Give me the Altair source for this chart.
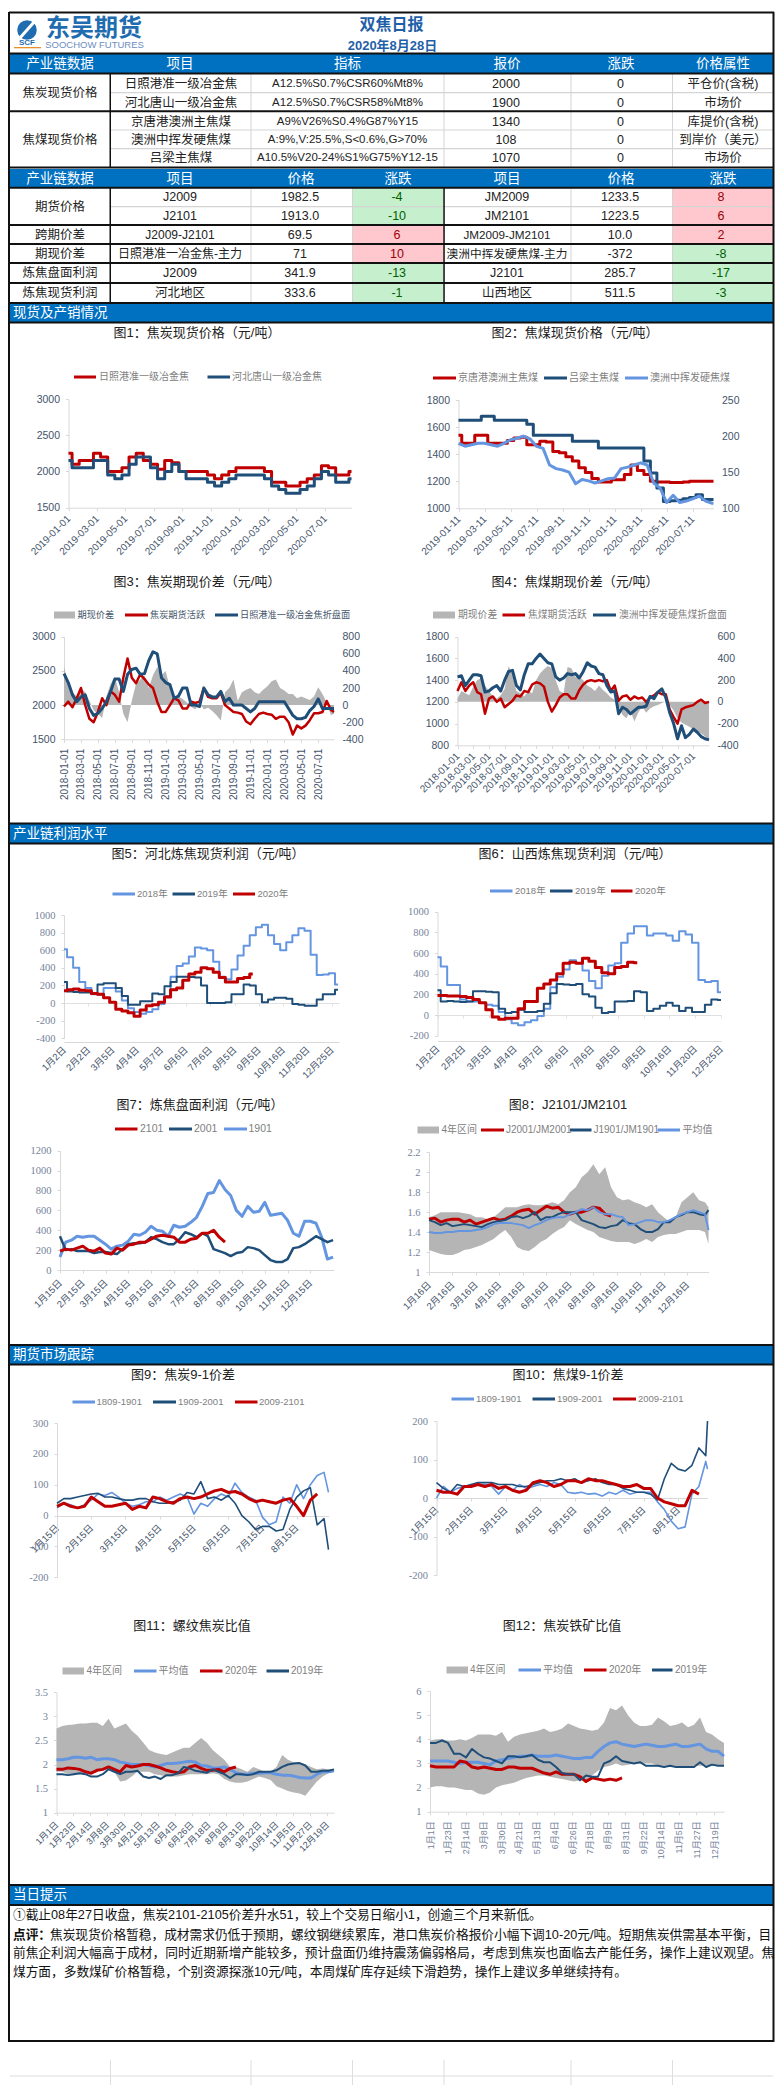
import json
import altair as alt
import numpy as np
import pandas as pd

W, H, M = 768, 2077, 8
RED, DARK, LIGHT, GRAY = "#C00000", "#1F4E79", "#6495E0", "#B5B5B5"
BLUE = "#0070C0"
SANS = "Liberation Sans, Noto Sans CJK SC"
AX_DARK, AX_PALE = "#44546A", "#75849A"

# ---------- table contents ----------
TITLE = "双焦日报"
DATE = "2020年8月28日"
HEAD1 = ["产业链数据", "项目", "指标", "报价", "涨跌", "价格属性"]
HEAD2 = ["产业链数据", "项目", "价格", "涨跌", "项目", "价格", "涨跌"]
ROWS1 = [
    ["日照港准一级冶金焦", "A12.5%S0.7%CSR60%Mt8%", "2000", "0", "平仓价(含税)"],
    ["河北唐山一级冶金焦", "A12.5%S0.7%CSR58%Mt8%", "1900", "0", "市场价"],
    ["京唐港澳洲主焦煤", "A9%V26%S0.4%G87%Y15", "1340", "0", "库提价(含税)"],
    ["澳洲中挥发硬焦煤", "A:9%,V:25.5%,S<0.6%,G>70%", "108", "0", "到岸价（美元）"],
    ["吕梁主焦煤", "A10.5%V20-24%S1%G75%Y12-15", "1070", "0", "市场价"],
]
ROWS2 = [
    ["J2009", "1982.5", "-4", "JM2009", "1233.5", "8"],
    ["J2101", "1913.0", "-10", "JM2101", "1223.5", "6"],
    ["J2009-J2101", "69.5", "6", "JM2009-JM2101", "10.0", "2"],
    ["日照港准一冶金焦-主力", "71", "10", "澳洲中挥发硬焦煤-主力", "-372", "-8"],
    ["J2009", "341.9", "-13", "J2101", "285.7", "-17"],
    ["河北地区", "333.6", "-1", "山西地区", "511.5", "-3"],
]
SECTIONS = ["现货及产销情况", "产业链利润水平", "期货市场跟踪", "当日提示"]
NOTE1 = "①截止08年27日收盘，焦炭2101-2105价差升水51，较上个交易日缩小1，创逾三个月来新低。"
NOTE2 = "焦炭现货价格暂稳，成材需求仍低于预期，螺纹钢继续累库，港口焦炭价格报价小幅下调10-20元/吨。短期焦炭供需基本平衡，目"
NOTE3 = "前焦企利润大幅高于成材，同时近期新增产能较多，预计盘面仍维持震荡偏弱格局，考虑到焦炭也面临去产能任务，操作上建议观望。焦"
NOTE4 = "煤方面，多数煤矿价格暂稳，个别资源探涨10元/吨，本周煤矿库存延续下滑趋势，操作上建议多单继续持有。"

# ---------- chart values ----------
C1_RED = [2250,2100,2150,2150,2250,2200,2000,2000,2050,2200,2250,2150,2100,2030,2150,2120,2000,2000,2000,2000,1950,1900,1950,2000,2050,2050,2050,2050,2000,1850,1850,1800,1800,1850,1900,1950,2080,2050,1950,1950,2000]
C1_DARK = [2150,2050,2050,2050,2150,2150,1950,1900,1950,2100,2200,2200,2050,1900,2000,2100,2000,1900,1900,1900,1850,1800,1850,1900,1950,1950,1950,1950,1900,1800,1750,1700,1700,1750,1800,1900,2000,1950,1850,1850,1900]
C2_RED = [1540,1480,1480,1540,1540,1480,1480,1480,1500,1520,1525,1470,1470,1495,1490,1420,1410,1380,1350,1300,1265,1220,1195,1195,1210,1210,1250,1320,1280,1250,1200,1195,1195,1190,1190,1195,1200,1200,1200,1200,1200]
C2_DARK = [1650,1650,1650,1650,1680,1680,1650,1650,1650,1650,1650,1620,1540,1540,1540,1540,1540,1540,1495,1495,1495,1495,1445,1445,1445,1445,1445,1445,1445,1350,1260,1150,1050,1055,1060,1070,1080,1100,1065,1065,1065]
C2_LIGHT = [190,186,188,190,190,188,186,190,195,197,200,196,186,183,160,155,153,150,134,140,138,135,138,141,142,155,157,160,163,160,135,128,108,118,108,110,113,117,110,107,107]
C3_GAP = [450,250,150,100,200,150,50,-60,-100,-150,100,250,330,150,-100,-200,50,250,300,350,200,350,450,350,400,200,50,100,70,30,-20,-50,30,-50,-30,-70,-120,-180,150,200,300,50,150,180,200,150,130,180,220,280,300,200,170,130,130,80,100,80,60,100,210,130,30,-120,-100]
C3_RED = [1980,2050,1970,2100,2250,2000,1800,1750,1900,2100,2000,2200,2150,2050,2400,2680,2400,2320,2450,2380,2300,2250,2050,1900,1900,2000,2100,2070,1950,1950,2050,2030,2050,2250,2120,2100,2100,2180,2000,1950,1900,1890,1870,1760,1720,1800,1870,1890,1870,1860,1800,1830,1830,1750,1570,1700,1660,1700,1780,1880,1880,1900,2060,1930,1900]
C3_DARK = [2460,2330,2150,2050,2120,2150,1950,1850,1880,1950,2050,2200,2380,2380,2200,2450,2520,2540,2450,2460,2650,2780,2750,2400,2330,2300,2100,2130,2250,2250,2000,2000,1980,2250,2150,2120,2120,2200,2050,2100,2000,2000,2000,1950,1900,1950,2050,2050,2050,2050,2050,2050,2050,1950,1850,1800,1800,1820,1920,1980,2090,1950,1950,1950,1950]
C4_GAP = [30,100,80,60,140,200,220,150,100,50,30,60,120,330,250,100,80,50,100,80,200,260,300,330,310,200,100,80,320,310,230,230,200,150,130,100,150,110,80,40,20,-40,-120,-150,-80,-180,-100,-40,-100,-60,-40,-30,-10,5,-30,-80,-150,-190,-210,-230,-250,-270,-290,-320,-350]
C4_RED = [1300,1380,1300,1350,1380,1290,1270,1090,1230,1250,1200,1230,1150,1180,1210,1260,1250,1300,1290,1360,1380,1370,1340,1200,1110,1170,1240,1270,1270,1230,1230,1310,1360,1390,1400,1390,1400,1390,1400,1300,1350,1210,1250,1260,1220,1250,1230,1240,1200,1240,1260,1290,1270,1270,1130,1060,1000,1130,1150,1160,1170,1200,1220,1190,1200]
C4_DARK = [1430,1440,1350,1400,1450,1450,1440,1290,1300,1330,1350,1300,1400,1480,1490,1350,1310,1450,1550,1550,1600,1640,1600,1560,1550,1430,1400,1420,1460,1450,1460,1420,1480,1560,1530,1520,1460,1450,1350,1290,1300,1090,1150,1130,1090,1120,1150,1150,1160,1250,1230,1290,1320,1240,1100,1000,860,980,870,900,950,920,880,860,850]
C5_2018 = [610,520,400,240,170,100,95,170,170,130,30,-60,-100,-120,-100,-70,-10,80,300,420,450,530,630,620,600,470,300,270,380,540,650,770,860,890,770,670,600,690,770,850,820,550,320,325,340,210]
C5_2019 = [240,130,125,120,120,105,210,225,225,170,80,-20,-20,20,20,110,100,190,240,300,300,295,290,200,0,0,0,10,100,100,210,200,100,10,40,60,60,50,-10,-20,-30,-30,40,100,100,150]
C5_2020 = [140,150,160,145,140,110,100,60,10,-70,-90,-110,-150,-80,-30,-20,10,70,150,170,260,330,350,400,390,350,290,240,240,280,290,330]
C6_2018 = [560,470,290,290,150,130,130,120,100,90,30,-40,-80,-100,-70,-50,-10,60,270,370,440,530,500,430,330,260,380,480,500,700,790,860,860,770,790,790,770,720,810,780,700,340,320,330,220]
C6_2019 = [240,130,135,130,125,130,230,230,225,220,60,20,30,50,30,30,40,110,210,300,295,290,300,200,180,70,20,30,130,130,135,230,220,40,60,90,120,90,40,70,30,30,100,150,145]
C6_2020 = [190,190,185,185,180,170,150,120,50,-20,-40,-30,-30,60,130,130,260,300,340,400,500,510,500,550,520,460,410,400,460,470,510,505]
C7_1901 = [130,280,300,340,330,340,340,300,260,210,240,250,290,360,350,380,440,400,390,340,450,430,440,480,530,640,770,780,900,810,750,600,540,640,580,590,680,550,560,570,500,370,340,490,490,470,330,110,130]
C7_2001 = [340,200,210,190,190,190,170,180,180,170,160,210,260,270,270,280,330,310,280,260,260,310,380,360,330,370,340,210,190,170,140,170,180,230,220,200,150,100,80,80,110,220,230,260,300,340,310,280,300]
C7_2101 = [190,210,200,220,240,200,190,220,170,160,220,200,250,260,280,280,310,340,350,340,330,280,280,310,320,370,370,400,330,280]
C8_UP = [1.55,1.57,1.6,1.6,1.6,1.6,1.59,1.58,1.55,1.55,1.53,1.55,1.6,1.65,1.65,1.65,1.67,1.68,1.67,1.67,1.68,1.7,1.68,1.72,1.8,1.85,1.95,2.0,2.08,1.98,2.05,1.85,1.75,1.72,1.73,1.7,1.68,1.65,1.68,1.6,1.55,1.5,1.55,1.7,1.75,1.8,1.72,1.7,1.65]
C8_LOW = [1.22,1.2,1.18,1.17,1.17,1.19,1.22,1.23,1.25,1.27,1.3,1.33,1.38,1.42,1.35,1.25,1.22,1.21,1.25,1.3,1.33,1.38,1.42,1.45,1.52,1.48,1.45,1.42,1.4,1.35,1.33,1.31,1.3,1.3,1.3,1.28,1.3,1.33,1.3,1.35,1.37,1.38,1.38,1.4,1.42,1.42,1.42,1.4,1.28]
C8_MEAN = [1.4,1.39,1.39,1.4,1.4,1.41,1.41,1.41,1.42,1.43,1.45,1.48,1.49,1.49,1.49,1.48,1.47,1.44,1.47,1.49,1.52,1.54,1.55,1.55,1.58,1.6,1.63,1.62,1.65,1.6,1.58,1.58,1.56,1.55,1.47,1.48,1.5,1.52,1.52,1.5,1.5,1.52,1.55,1.58,1.6,1.62,1.6,1.58,1.42]
C8_2001 = [1.53,1.54,1.5,1.52,1.53,1.53,1.5,1.52,1.48,1.5,1.52,1.54,1.52,1.53,1.56,1.6,1.62,1.63,1.58,1.62,1.66,1.64,1.65,1.6,1.58,1.6,1.6,1.62,1.65,1.64,1.58,1.56]
C8_1901 = [1.52,1.5,1.47,1.49,1.46,1.47,1.48,1.47,1.46,1.45,1.48,1.5,1.51,1.52,1.55,1.56,1.54,1.56,1.6,1.52,1.55,1.55,1.58,1.6,1.6,1.6,1.52,1.5,1.48,1.45,1.44,1.46,1.47,1.52,1.49,1.48,1.43,1.4,1.4,1.43,1.5,1.5,1.55,1.57,1.6,1.6,1.58,1.57,1.62]
C9_1809 = [25,40,35,25,35,50,70,65,75,60,40,30,35,45,45,60,50,60,70,60,5,40,30,55,70,60,105,75,60,50,-5,-30,-20,60,40,100,55,100,130,140,75]
C9_1909 = [40,55,55,60,65,70,72,60,60,55,50,50,55,55,45,40,40,45,50,75,70,110,55,60,50,65,40,0,-20,-45,-35,-35,-50,-45,20,60,80,90,-30,-10,-110]
C9_2009 = [30,40,30,25,30,60,45,30,30,35,40,20,30,25,60,55,45,40,55,60,55,60,70,80,85,75,78,70,55,45,50,45,40,50,55,30,0,50,70]
C10_1809 = [0,30,15,25,30,30,35,35,30,10,30,20,35,25,30,35,30,40,35,15,12,15,10,12,5,15,10,20,10,15,15,15,-10,-30,-60,-80,-75,10,30,95,75]
C10_1909 = [40,25,15,35,30,35,40,40,40,35,35,35,30,30,35,40,45,45,50,45,50,40,45,50,40,35,35,25,20,15,15,10,-5,50,90,75,70,85,130,110,200]
C10_2009 = [20,15,15,10,30,30,35,30,35,25,30,20,15,20,40,45,40,30,35,45,45,40,50,45,45,40,35,30,30,35,25,25,0,-10,-15,-20,-20,20,10]
C11_UP = [2.75,2.8,2.82,2.83,2.85,2.85,2.87,2.87,2.8,2.95,2.75,2.8,2.85,2.7,2.6,2.45,2.3,2.25,2.22,2.2,2.25,2.3,2.35,2.35,2.45,2.55,2.45,2.3,2.2,2.1,1.95,1.95,1.9,1.85,1.95,1.9,1.85,1.85,1.95,2.2,2.1,2.05,2.05,2.0,1.95,1.9,1.92,1.9,1.9]
C11_LOW = [1.85,1.85,1.8,1.8,1.8,1.85,1.85,1.85,1.9,1.9,1.85,1.65,1.67,1.75,1.85,1.85,1.85,1.8,1.78,1.75,1.75,1.75,1.78,1.8,1.8,1.8,1.8,1.82,1.8,1.7,1.65,1.62,1.62,1.65,1.7,1.75,1.72,1.68,1.55,1.5,1.45,1.42,1.4,1.35,1.5,1.65,1.75,1.82,1.85]
C11_MEAN = [2.1,2.1,2.12,2.15,2.15,2.13,2.15,2.1,2.12,2.12,2.1,2.05,2.03,2.0,2.0,2.0,1.98,1.95,1.98,2.02,2.02,2.03,2.05,2.07,2.05,1.98,1.97,1.93,1.93,1.95,1.9,1.83,1.8,1.8,1.82,1.82,1.83,1.83,1.8,1.78,1.78,1.76,1.73,1.72,1.72,1.8,1.85,1.85,1.87]
C11_2020 = [1.9,1.9,1.93,1.92,1.9,1.85,1.82,1.88,1.9,1.95,1.9,1.85,1.98,1.95,1.97,2.0,2.0,1.97,1.93,1.88,1.85,1.83,1.85,1.95,1.98,1.92,1.88,1.88,1.9,1.85,1.92,1.95]
C11_2019 = [1.8,1.8,1.78,1.8,1.82,1.8,1.75,1.75,1.8,1.9,1.85,1.8,1.85,1.85,1.87,1.75,1.72,1.75,1.7,1.78,1.78,1.82,1.95,1.92,1.87,1.85,1.83,1.9,1.85,1.8,1.72,1.8,1.8,1.78,1.8,1.85,1.85,1.85,1.88,1.95,2.0,2.02,2.03,1.98,1.85,1.85,1.87,1.87,1.9]
C12_UP = [3.95,4.0,4.0,3.95,3.95,4.0,3.95,4.05,4.2,4.2,4.2,4.15,4.3,3.9,4.1,4.2,4.25,4.3,4.35,4.45,4.3,4.35,4.45,4.65,4.55,4.45,4.4,4.35,4.4,4.7,5.3,5.2,5.4,5.0,4.7,4.55,4.55,4.6,4.9,4.75,4.55,4.6,4.7,4.5,4.6,4.9,4.3,4.2,4.0,3.85]
C12_LOW = [2.0,2.05,2.05,2.0,2.0,1.95,1.9,1.9,1.75,1.7,1.8,2.0,2.1,2.15,2.2,2.3,2.4,2.45,2.5,2.5,2.45,2.4,2.35,2.3,2.25,2.3,2.3,2.5,2.7,2.85,2.9,3.0,2.9,2.95,3.0,3.0,3.0,3.0,2.9,2.9,2.9,2.9,2.85,2.85,2.9,2.9,2.9,2.9,2.95,2.9]
C12_MEAN = [3.1,3.1,3.1,3.1,3.05,3.0,3.05,3.05,3.05,3.0,2.95,3.1,3.15,3.2,3.25,3.3,3.3,3.35,3.3,3.3,3.3,3.35,3.3,3.25,3.2,3.2,3.25,3.25,3.5,3.7,3.85,3.9,3.8,3.75,3.7,3.75,3.8,3.75,3.7,3.7,3.75,3.8,3.7,3.7,3.75,3.8,3.6,3.5,3.5,3.3]
C12_2020 = [2.9,2.85,2.85,2.85,2.85,3.1,3.05,2.85,2.8,2.85,2.8,2.75,2.75,2.85,2.85,2.8,2.8,2.8,2.7,2.6,2.55,2.65,2.55,2.55,2.55,2.45,2.25,2.4,2.35,2.3,2.35,2.3,2.4]
C12_2019 = [3.85,3.85,3.95,3.85,3.4,3.4,3.25,3.6,3.4,3.25,3.2,3.1,3.0,3.3,3.3,3.25,3.3,3.35,3.15,3.05,3.05,2.85,2.6,2.55,2.55,2.3,2.5,2.45,2.45,3.0,3.1,3.3,3.1,3.05,3.0,3.05,2.9,2.9,2.9,2.85,2.9,2.85,2.85,2.85,2.85,3.05,2.85,2.95,2.9,2.9]

# ---------- tick labels ----------
def two_month(first_year, first_month, day, count):
    out, y, m = [], first_year, first_month
    for _ in range(count):
        out.append(f"{y}-{m:02d}-{day:02d}")
        m += 2
        if m > 12:
            m -= 12
            y += 1
    return out

T1 = two_month(2019, 1, 1, 10)
T2 = two_month(2019, 1, 11, 10)
T3 = two_month(2018, 1, 1, 16)
T5 = ["1月2日","2月2日","3月5日","4月4日","5月7日","6月6日","7月6日","8月5日","9月5日","10月16日","11月20日","12月25日"]
T7 = [f"{m}月15日" for m in range(1, 13)]
T8 = [f"{m}月16日" for m in range(1, 13)]
T9 = [f"{m}月15日" for m in range(1, 9)]
T11 = ["1月1日","1月23日","2月14日","3月8日","3月30日","4月21日","5月13日","6月4日","6月26日","7月18日","8月9日","8月31日","9月22日","10月14日","11月5日","11月27日","12月19日"]

# ---------- page-level rectangles and texts ----------
rects, texts = [], []

def box(x0, y0, x1, y1, c):
    rects.append(dict(x=x0 - M, x2=x1 - M, y=y0 - M, y2=y1 - M, c=c))

def put(x, y, t, size=12.5, c="#222222", align="center", weight="normal", font=SANS):
    texts.append(dict(x=x - M, y=y - M, t=t, s=size, c=c, align=align, weight=weight, font=font))

L, R = 9, 773
# section blue bars
for y0, y1, name in [(303, 322, SECTIONS[0]), (824, 843, SECTIONS[1]), (1345, 1364, SECTIONS[2]), (1885, 1904, SECTIONS[3])]:
    box(L, y0, R, y1, BLUE)
    put(13, (y0 + y1) / 2, name, 13.5, "#FFFFFF", "left")
for y0, y1 in [(54, 73), (169, 187)]:
    box(L, y0, R, y1, BLUE)
# coloured change cells
row_y2 = [188, 206.7, 225, 244, 263, 283, 302.7]
for i, r in enumerate(ROWS2):
    for v, x0, x1 in [(r[2], 352.5, 444), (r[5], 672.5, 773)]:
        box(x0, row_y2[i], x1, row_y2[i + 1], "#C6EFCE" if v.startswith("-") else "#FFC7CE")
# light inner lines
GRID = "#D4D4D4"
for x in [251, 571, 672.5]:
    box(x - .5, 74, x + .5, 167, GRID)
    box(x - .5, 188, x + .5, 303, GRID)
box(443.5, 74, 444.5, 167, GRID)
box(352, 188, 353, 303, GRID)
for y in [92.7, 130, 148.7, 206.7]:
    box(110, y - .6, R, y + .6, GRID)
# black lines
for y in [12.5, 53.5, 73.5, 111.3, 167.5, 187.7, 225, 244, 263, 283, 303, 322.5, 823.5, 843.5, 1345, 1364.5, 1885, 1905, 2041]:
    box(L, y - 1, R + 1, y + 1, "#111111")
box(109.5, 74, 111, 167, "#111111")
box(109.5, 188, 111, 303, "#111111")
box(443.3, 188, 444.8, 303, "#111111")
box(L - 1, 12, L + 1, 2042, "#111111")
box(R - .5, 12, R + 1.5, 2042, "#111111")
# faint cells below the frame
for y in [2076, 2092]:
    box(10, y - .6, R, y + .6, "#DEDEDE")
for x in [110.5, 251, 352.5, 444, 571, 672.5]:
    box(x - .5, 2060, x + .5, 2092, "#DEDEDE")

# header text
put(391.5, 24.5, TITLE, 16, "#1F5FA8", weight="bold")
put(392.5, 45.7, DATE, 13, "#1F5FA8", weight="bold")
put(94, 29, "东吴期货", 24, "#1F6DB0", weight="bold")
put(94.5, 45, "SOOCHOW FUTURES", 9.5, "#6C8EBF")
put(27, 43, "SCF", 8, "#1F6DB0", weight="bold")
box(14, 47, 41, 48.3, "#E8902A")

for t, x in zip(HEAD1, [60, 180, 347.5, 507, 621, 723]):
    put(x, 64, t, 13.5, "#FFFFFF")
for t, x in zip(HEAD2, [60, 180, 301, 398, 507, 621, 723]):
    put(x, 178.5, t, 13.5, "#FFFFFF")
Y1 = [83.5, 102.5, 121.5, 139.5, 158]
put(60, 93, "焦炭现货价格")
put(60, 139.5, "焦煤现货价格")
for y, r in zip(Y1, ROWS1):
    put(181, y, r[0])
    put(347.5, y, r[1], 11.5)
    put(506, y, r[2])
    put(620.5, y, r[3])
    put(723, y, r[4])
Y2 = [197, 216, 235, 254, 273, 293]
for y, t in zip([206.5, 235, 254, 273, 293], ["期货价格", "跨期价差", "期现价差", "炼焦盘面利润", "炼焦现货利润"]):
    put(60, y, t)
for y, r in zip(Y2, ROWS2):
    put(180, y, r[0], 12 if len(r[0]) > 8 else 12.5)
    put(300, y, r[1])
    put(397, y, r[2], c="#9C0006" if not r[2].startswith("-") else "#006100")
    put(507, y, r[3], 11.7 if len(r[3]) > 8 else 12.5)
    put(620, y, r[4])
    put(721, y, r[5], c="#9C0006" if not r[5].startswith("-") else "#006100")

put(13, 1915, NOTE1, 12.7, "#111111", "left")
put(13, 1935, "点评：", 12.7, "#111111", "left", "bold")
put(50, 1935, NOTE2, 12.7, "#111111", "left")
put(13, 1953, NOTE3, 12.7, "#111111", "left")
put(13, 1972, NOTE4, 12.7, "#111111", "left")

# chart titles
for x, y, t in [
    (197, 333, "图1：焦炭现货价格（元/吨）"), (575, 333, "图2：焦煤现货价格（元/吨）"),
    (197, 582, "图3：焦炭期现价差（元/吨）"), (575, 582, "图4：焦煤期现价差（元/吨）"),
    (208, 854, "图5：河北炼焦现货利润（元/吨）"), (575, 854, "图6：山西炼焦现货利润（元/吨）"),
    (200, 1105, "图7：炼焦盘面利润（元/吨）"), (568, 1105, "图8：J2101/JM2101"),
    (183, 1375, "图9：焦炭9-1价差"), (568, 1375, "图10：焦煤9-1价差"),
    (192, 1626, "图11：螺纹焦炭比值"), (562, 1626, "图12：焦炭铁矿比值"),
]:
    put(x, y, t, 13, "#222222")

# legends: entries are (swatch start, swatch end, text start, label, colour, kind) in 2x crop units
def legend(y, entries, size=10, c="#808080", thick=3):
    for a, b, tx, label, col, kind in entries:
        h = 3.5 if kind == "area" else thick / 2
        box(a / 2, y - h, b / 2, y + h, col)
        put(tx / 2, y, label, size, c, "left")

legend(377, [(148,192,198,"日照港准一级冶金焦",RED,"l"),(415,460,464,"河北唐山一级冶金焦",DARK,"l")])
legend(378, [(866,912,916,"京唐港澳洲主焦煤",RED,"l"),(1088,1134,1138,"吕梁主焦煤",DARK,"l"),(1250,1296,1300,"澳洲中挥发硬焦煤",LIGHT,"l")])
legend(615, [(108,150,155,"期现价差",GRAY,"area"),(250,296,300,"焦炭期货活跃",RED,"l"),(430,476,480,"日照港准一级冶金焦折盘面",DARK,"l")], 9.2, "#44546A")
legend(615, [(866,910,916,"期现价差",GRAY,"area"),(1005,1050,1056,"焦煤期货活跃",RED,"l"),(1186,1232,1238,"澳洲中挥发硬焦煤折盘面",DARK,"l")], 9.8)
legend(894, [(225,270,274,"2018年",LIGHT,"l"),(345,390,394,"2019年",DARK,"l"),(466,510,515,"2020年",RED,"l")], 9.5)
legend(891, [(980,1025,1030,"2018年",LIGHT,"l"),(1100,1145,1150,"2019年",DARK,"l"),(1222,1265,1270,"2020年",RED,"l")], 9.5)
legend(1129, [(230,275,280,"2101",RED,"l"),(338,384,388,"2001",DARK,"l"),(448,494,497,"1901",LIGHT,"l")], 10.5)
legend(1130, [(835,878,883,"4年区间",GRAY,"area"),(962,1008,1012,"J2001/JM2001",RED,"l"),(1140,1183,1187,"J1901/JM1901",DARK,"l"),(1315,1360,1365,"平均值",LIGHT,"l")], 10)
legend(1402, [(145,190,193,"1809-1901",LIGHT,"l"),(306,352,356,"1909-2001",DARK,"l"),(470,515,518,"2009-2101",RED,"l")], 9.5)
legend(1399, [(903,948,952,"1809-1901",LIGHT,"l"),(1065,1110,1114,"1909-2001",DARK,"l"),(1226,1272,1276,"2009-2101",RED,"l")], 9.5)
legend(1671, [(125,168,173,"4年区间",GRAY,"area"),(268,313,317,"平均值",LIGHT,"l"),(400,445,450,"2020年",RED,"l"),(533,578,582,"2019年",DARK,"l")], 10)
legend(1670, [(893,936,940,"4年区间",GRAY,"area"),(1037,1082,1086,"平均值",LIGHT,"l"),(1168,1213,1218,"2020年",RED,"l"),(1304,1345,1350,"2019年",DARK,"l")], 10)

# ---------- marks ----------
layers = []
layers.append(alt.Chart(pd.DataFrame(rects)).mark_rect().encode(
    x=alt.X("x:Q", scale=None, axis=None), x2="x2:Q",
    y=alt.Y("y:Q", scale=None, axis=None), y2="y2:Q",
    color=alt.Color("c:N", scale=None, legend=None)))

# logo
layers.append(alt.Chart(pd.DataFrame({"x": [27 - M], "y": [30 - M]})).mark_point(
    shape="circle", filled=True, opacity=1, color="#1F6DB0", size=380).encode(
    x=alt.X("x:Q", scale=None, axis=None), y=alt.Y("y:Q", scale=None, axis=None)))
layers.append(alt.Chart(pd.DataFrame({"x": [19 - M], "x2": [35 - M], "y": [39 - M], "y2": [21 - M]})).mark_rule(
    color="#FFFFFF", strokeWidth=3).encode(
    x=alt.X("x:Q", scale=None, axis=None), x2="x2:Q", y=alt.Y("y:Q", scale=None, axis=None), y2="y2:Q"))


def xaxis(labels, axis_y, angle, pad, color=AX_DARK, size=10, ticks=True, show=True):
    expr = json.dumps(labels, ensure_ascii=False) + "[datum.value]"
    kw = dict(orient="bottom", offset=axis_y - M - H, values=list(range(len(labels))), grid=False,
              domainColor="#D9D9D9", tickColor="#D9D9D9", tickSize=3 if ticks else 0, ticks=ticks,
              labelOverlap=False, labelBound=False, labelFlush=False, labels=show)
    if show:
        kw.update(labelExpr=expr, labelAngle=angle, labelAlign="right", labelBaseline="middle",
                  labelColor=color, labelFont=SANS, labelFontSize=size, labelPadding=pad)
    return alt.Axis(**kw)


def yaxis(values, x, color=AX_DARK, font=SANS, size=10.5, side="left"):
    kw = dict(values=values, grid=False, labelExpr="'' + datum.value", labelColor=color, labelFont=font,
              labelFontSize=size, labelOverlap=False, labelBound=False, labelFlush=False)
    if side == "left":
        kw.update(orient="left", offset=-(x - M), domainColor="#D9D9D9", tickColor="#D9D9D9", tickSize=3, labelPadding=6)
    else:
        kw.update(orient="right", offset=x - M - W, domain=False, ticks=False, labelPadding=8)
    return alt.Axis(**kw)


def draw(spec, kind, ys, step, color=None, width=2.5, y2=None, xax=None, yax=None, dom=None, interp="linear"):
    """Add a series; x runs in tick units, positioned through the panel's scales."""
    xs = np.minimum(np.arange(len(ys)) * step, spec["end"])
    data = {"x": xs, "y": ys}
    if y2 is not None:
        data["b"] = y2
    xenc = alt.X("x:Q", title=None,
                 scale=alt.Scale(domain=[0, spec["end"]], range=[spec["l"] - M, spec["r"] - M], nice=False, zero=False),
                 axis=xax)
    yenc = alt.Y("y:Q", title=None,
                 scale=alt.Scale(domain=dom or spec["dom"], range=[spec["bot"] - M, spec["top"] - M], nice=False, zero=False),
                 axis=yax)
    base = alt.Chart(pd.DataFrame(data))
    if kind == "area":
        layers.append(base.mark_area(color=color, opacity=1, interpolate=interp).encode(x=xenc, y=yenc, y2="b:Q"))
    else:
        layers.append(base.mark_line(color=color, strokeWidth=width, interpolate=interp, strokeJoin="round").encode(x=xenc, y=yenc))


# chart 1
s = dict(l=68.5, r=351.5, top=399, bot=507.7, end=9.93, dom=[1500, 3000])
draw(s, "line", C1_RED, .25, RED, 3, interp="step", xax=xaxis(T1, 507.7, -45, 6), yax=yaxis([1500, 2000, 2500, 3000], 68.5))
draw(s, "line", C1_DARK, .25, DARK, 3, interp="step", xax=None, yax=None)
# chart 2
s = dict(l=458.5, r=713.5, top=400, bot=508.3, end=9.8, dom=[1000, 1800])
draw(s, "line", C2_RED, .25, RED, 3, interp="step", xax=xaxis(T2, 508.3, -45, 6), yax=yaxis([1000, 1200, 1400, 1600, 1800], 458.5))
draw(s, "line", C2_DARK, .25, DARK, 3, interp="step")
draw(s, "line", C2_LIGHT, .25, LIGHT, 3, dom=[100, 250], yax=yaxis([100, 150, 200, 250], 713.5, side="right"))
# chart 3
s = dict(l=64, r=334, top=636.7, bot=739.3, end=15.93, dom=[1500, 3000])
draw(s, "area", C3_GAP, .25, GRAY, y2=[0] * len(C3_GAP), dom=[-400, 800],
     yax=yaxis([-400, -200, 0, 200, 400, 600, 800], 334, side="right"),
     xax=xaxis(T3, 739.3, -90, 6))
draw(s, "line", C3_RED, .25, RED, 2.5, yax=yaxis([1500, 2000, 2500, 3000], 64))
draw(s, "line", C3_DARK, .25, DARK, 3)
# chart 4
s = dict(l=457.5, r=709, top=636.7, bot=745.3, end=16, dom=[800, 1800])
draw(s, "area", C4_GAP, .25, GRAY, y2=[0] * len(C4_GAP), dom=[-400, 600],
     yax=yaxis([-400, -200, 0, 200, 400, 600], 709, side="right"),
     xax=xaxis(T3, 745.3, -45, 6))
draw(s, "line", C4_RED, .25, RED, 2.5, yax=yaxis([800, 1000, 1200, 1400, 1600, 1800], 457.5))
draw(s, "line", C4_DARK, .25, DARK, 3)
# chart 5
s = dict(l=64, r=339, top=915, bot=1038.3, end=11.29, dom=[-400, 1000])
draw(s, "line", C5_2018, .25, LIGHT, 2, interp="step",
     xax=xaxis(T5, 1042, -45, 6, size=9.5, ticks=False),
     yax=yaxis([-400, -200, 0, 200, 400, 600, 800, 1000], 64, AX_PALE, "Liberation Serif"))
draw(s, "line", C5_2019, .25, DARK, 2, interp="step", xax=alt.Axis(orient="bottom", offset=1003 - M - H, values=list(range(12)), labels=False, grid=False, domainColor="#E0E0E0", tickColor="#E0E0E0", tickSize=3))
draw(s, "line", C5_2020, .25, RED, 3, interp="step")
# chart 6
s = dict(l=437.5, r=721, top=911.7, bot=1035.7, end=11, dom=[-200, 1000])
draw(s, "line", C6_2018, .25, LIGHT, 2, interp="step",
     xax=xaxis(T5, 1041, -45, 6, size=9.5, ticks=False),
     yax=yaxis([-200, 0, 200, 400, 600, 800, 1000], 437.5, AX_PALE, "Liberation Serif"))
draw(s, "line", C6_2019, .25, DARK, 2, interp="step", xax=alt.Axis(orient="bottom", offset=1015 - M - H, values=list(range(12)), labels=False, grid=False, domainColor="#E0E0E0", tickColor="#E0E0E0", tickSize=3))
draw(s, "line", C6_2020, .25, RED, 3, interp="step")
# chart 7
s = dict(l=60, r=334, top=1150.7, bot=1270, end=12.04, dom=[0, 1200])
draw(s, "line", C7_1901, .25, LIGHT, 3, xax=xaxis(T7, 1270, -45, 8, size=9.5),
     yax=yaxis([0, 200, 400, 600, 800, 1000, 1200], 60, AX_PALE, "Liberation Serif"))
draw(s, "line", C7_2001, .25, DARK, 2.5)
draw(s, "line", C7_2101, .25, RED, 3)
# chart 8
s = dict(l=429, r=708.5, top=1152.3, bot=1272, end=11.9, dom=[1, 2.2])
draw(s, "area", C8_UP, .25, GRAY, y2=C8_LOW, xax=xaxis(T8, 1272, -45, 8, size=9.5),
     yax=yaxis([1, 1.2, 1.4, 1.6, 1.8, 2, 2.2], 429, AX_PALE, "Liberation Serif"))
draw(s, "line", C8_2001, .25, RED, 3)
draw(s, "line", C8_1901, .25, DARK, 2)
draw(s, "line", C8_MEAN, .25, LIGHT, 2)
# chart 9
s = dict(l=57, r=328.5, top=1423, bot=1577.3, end=7.93, dom=[-200, 300])
draw(s, "line", C9_1809, .2, LIGHT, 1.6, xax=xaxis(T9, 1516, -45, 7, size=9.5),
     yax=yaxis([-200, -100, 0, 100, 200, 300], 57, AX_PALE, "Liberation Serif"))
draw(s, "line", C9_1909, .2, DARK, 1.6)
draw(s, "line", C9_2009, .2, RED, 3)
# chart 10
s = dict(l=436.5, r=707.5, top=1421, bot=1575, end=7.85, dom=[-200, 200])
draw(s, "line", C10_1809, .2, LIGHT, 1.6, xax=xaxis(T9, 1498, -45, 7, size=9.5),
     yax=yaxis([-200, -100, 0, 100, 200], 436.5, AX_PALE, "Liberation Serif"))
draw(s, "line", C10_1909, .2, DARK, 1.6)
draw(s, "line", C10_2009, .2, RED, 3)
# chart 11
s = dict(l=56.5, r=334, top=1692.3, bot=1812.7, end=16.4, dom=[1, 3.5])
draw(s, "area", C11_UP, .342, GRAY, y2=C11_LOW, xax=xaxis(T11, 1812.7, -45, 7, size=9),
     yax=yaxis([1, 1.5, 2, 2.5, 3, 3.5], 56.5, AX_PALE, "Liberation Serif"))
draw(s, "line", C11_MEAN, .342, LIGHT, 3)
draw(s, "line", C11_2020, .342, RED, 3)
draw(s, "line", C11_2019, .342, DARK, 2)
# chart 12
s = dict(l=430, r=724, top=1691, bot=1811.7, end=16.56, dom=[1, 6])
draw(s, "area", C12_UP, .338, GRAY, y2=C12_LOW, xax=xaxis(T11, 1811.7, -90, 6, AX_PALE, size=9),
     yax=yaxis([1, 2, 3, 4, 5, 6], 430, AX_PALE, "Liberation Serif"))
draw(s, "line", C12_MEAN, .338, LIGHT, 3)
draw(s, "line", C12_2020, .338, RED, 3)
draw(s, "line", C12_2019, .338, DARK, 2)

# text on top
tdf = pd.DataFrame(texts)
for (font, weight, align), g in tdf.groupby(["font", "weight", "align"]):
    layers.append(alt.Chart(g).mark_text(font=font, fontWeight=weight, align=align, baseline="middle").encode(
        x=alt.X("x:Q", scale=None, axis=None), y=alt.Y("y:Q", scale=None, axis=None), text="t:N",
        size=alt.Size("s:Q", scale=None, legend=None), color=alt.Color("c:N", scale=None, legend=None)))

chart = (alt.layer(*layers)
         .resolve_scale(x="independent", y="independent")
         .properties(width=W, height=H, padding=0, background="#FFFFFF",
                     autosize=alt.AutoSizeParams(type="none", contains="content"))
         .configure_view(stroke=None))
chart.save("out.html", embed_options={"renderer": "svg", "actions": False})
